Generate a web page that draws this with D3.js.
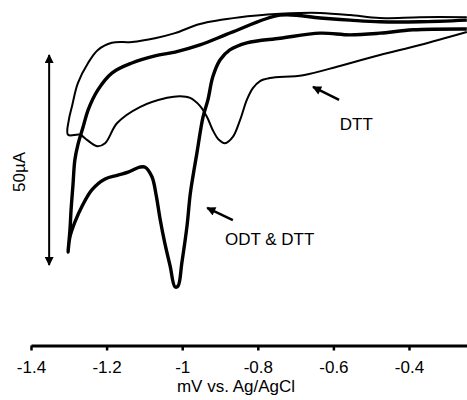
<!DOCTYPE html>
<html>
<head>
<meta charset="utf-8">
<script src="https://cdn.jsdelivr.net/npm/d3@7"></script>
<style>
  body { margin: 0; background: #fff; }
  text { font-family: Arial, "Liberation Sans", sans-serif; }
</style>
</head>
<body>
<div id="chart"></div>
<script>
// potential (V vs Ag/AgCl) and current (uA)
// DTT only (thin loop): upper branch right->left, then lower branch left->right
var dttV = [-0.247,-0.371,-0.477,-0.556,-0.635,-0.688,-0.741,-0.847,-0.953,-1.019,-1.072,-1.133,-1.186,-1.223,-1.249,-1.276,-1.292,-1.300,-1.302,
            -1.270,-1.252,-1.225,-1.204,-1.172,-1.112,-1.040,-1.006,-0.979,-0.953,-0.934,-0.919,-0.903,-0.887,-0.866,-0.847,-0.829,-0.813,-0.794,-0.768,-0.680,-0.583,-0.477,-0.371,-0.247];
var dttI = [9.0,9.0,8.8,9.5,10.0,10.0,9.8,9.0,7.4,5.2,4.0,3.1,2.9,1.2,-1.9,-6.7,-12.4,-15.5,-19.0,
            -19.0,-20.2,-21.7,-21.0,-16.2,-12.4,-10.2,-9.8,-10.2,-12.1,-14.8,-17.9,-20.2,-21.0,-19.5,-15.5,-10.7,-7.9,-6.2,-5.5,-4.8,-2.6,0,2.4,5.5];

// ODT & DTT (thick loop)
var odtV = [-0.247,-0.371,-0.477,-0.556,-0.635,-0.741,-0.866,-0.953,-1.019,-1.072,-1.133,-1.186,-1.223,-1.249,-1.262,-1.276,-1.284,-1.289,-1.294,-1.297,-1.302,
            -1.297,-1.284,-1.265,-1.239,-1.204,-1.170,-1.143,-1.112,-1.098,-1.080,-1.069,-1.059,-1.046,-1.032,-1.019,-1.011,-1.001,-0.987,-0.979,-0.971,-0.961,-0.945,-0.932,-0.919,-0.900,-0.874,-0.829,-0.741,-0.635,-0.556,-0.477,-0.389,-0.247];
var odtI = [8.3,7.9,7.9,8.3,8.8,9.5,5.5,2.4,0.7,-0.2,-1.9,-4.3,-8.3,-13.1,-17.1,-21.4,-25.0,-31.0,-36.9,-41.7,-46.9,
            -43.3,-39.8,-36.0,-32.1,-29.5,-28.6,-27.9,-26.7,-26.7,-29.0,-33.3,-38.8,-44.8,-50.2,-55.2,-55.0,-49.5,-40.5,-33.3,-28.6,-23.3,-14.8,-10.7,-5.2,-1.2,1.2,2.9,4.0,5.2,4.8,5.2,6.0,6.2];

var xTicks = [-1.4, -1.2, -1.0, -0.8, -0.6, -0.4];
var xTitle = "mV vs. Ag/AgCl";
var scaleBar = [0, -50];          // uA
var scaleBarV = -1.352;
var scaleLabel = "50µA";

// annotations: label, arrow tip (V,uA), arrow tail (V,uA), label anchor (V,uA)
var notes = [
  {text: "DTT", tip: [-0.654, -7.6], tail: [-0.585, -10.7], at: [-0.583, -17.9]},
  {text: "ODT & DTT", tip: [-0.934, -36.4], tail: [-0.866, -39.3], at: [-0.887, -45.2]}
];

var width = 467, height = 400;

var x = d3.scaleLinear().domain([-1.4, -0.4]).range([31, 409]);
var y = d3.scaleLinear().domain([0, -50]).range([55, 265]);
x.domain([-1.4, x.invert(467)]).range([31, 467]);

var svg = d3.select("#chart").append("svg")
    .attr("width", width)
    .attr("height", height);

var defs = svg.append("defs");
defs.append("marker")
    .attr("id", "head")
    .attr("viewBox", "0 0 10 10")
    .attr("refX", 9).attr("refY", 5)
    .attr("markerUnits", "userSpaceOnUse")
    .attr("markerWidth", 10).attr("markerHeight", 9)
    .attr("orient", "auto-start-reverse")
    .append("path").attr("d", "M0,0L10,5L0,10Z").attr("fill", "#000");

var line = d3.line()
    .x(function(d) { return x(d[0]); })
    .y(function(d) { return y(d[1]); })
    .curve(d3.curveCatmullRom.alpha(0.5));

var dtt = dttV.map(function(v, i) { return [v, dttI[i]]; });
var odt = odtV.map(function(v, i) { return [v, odtI[i]]; });

svg.append("path").datum(dtt)
    .attr("d", line).attr("fill", "none")
    .attr("stroke", "#000").attr("stroke-width", 2)
    .attr("stroke-linejoin", "round");

svg.append("path").datum(odt)
    .attr("d", line).attr("fill", "none")
    .attr("stroke", "#000").attr("stroke-width", 3.4)
    .attr("stroke-linejoin", "round");

// x axis
var axis = svg.append("g")
    .attr("transform", "translate(0,345.5)")
    .call(d3.axisBottom(x).tickValues(xTicks).tickSize(5).tickSizeOuter(0)
        .tickFormat(function(d) { return String(+d.toFixed(1)); }));
axis.attr("font-family", null);
axis.select(".domain").attr("stroke-width", 3);
axis.selectAll(".tick line").attr("stroke-width", 2.5);
axis.selectAll(".tick text")
    .attr("y", 27).attr("dy", null)
    .style("font-size", "17px");

svg.append("text")
    .attr("x", 236).attr("y", 391.5)
    .attr("text-anchor", "middle")
    .style("font-size", "17px")
    .text(xTitle);

// 50 uA scale bar
svg.append("line")
    .attr("x1", x(scaleBarV)).attr("x2", x(scaleBarV))
    .attr("y1", y(scaleBar[0])).attr("y2", y(scaleBar[1]))
    .attr("stroke", "#000").attr("stroke-width", 2)
    .attr("marker-start", "url(#head)")
    .attr("marker-end", "url(#head)");

svg.append("text")
    .attr("transform", "translate(25,172) rotate(-90)")
    .attr("text-anchor", "middle")
    .style("font-size", "17px")
    .text(scaleLabel);

// annotations
notes.forEach(function(n) {
    svg.append("line")
        .attr("x1", x(n.tail[0])).attr("y1", y(n.tail[1]))
        .attr("x2", x(n.tip[0])).attr("y2", y(n.tip[1]))
        .attr("stroke", "#000").attr("stroke-width", 2.5)
        .attr("marker-end", "url(#head)");
    svg.append("text")
        .attr("x", x(n.at[0])).attr("y", y(n.at[1]))
        .style("font-size", "17px")
        .text(n.text);
});
</script>
</body>
</html>
